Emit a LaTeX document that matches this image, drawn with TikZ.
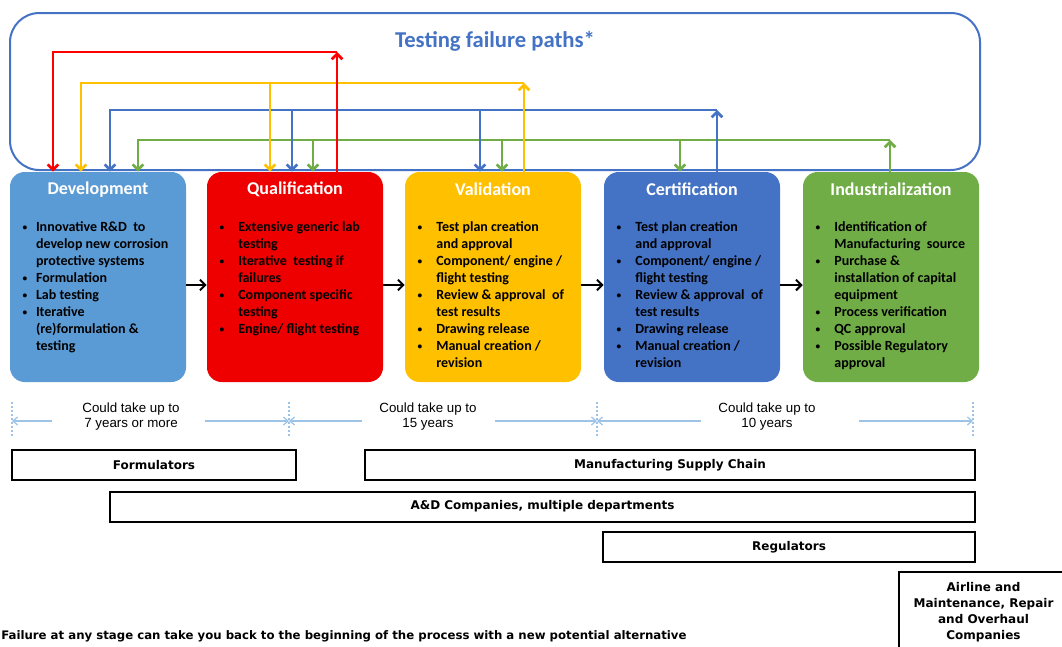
\documentclass[tikz,border=0pt]{standalone}
\usepackage{fontspec}
\setmainfont{Carlito}
\newfontfamily\barfont{DejaVu Sans}
\newfontfamily\spanfont{Liberation Sans}
\usetikzlibrary{arrows.meta,positioning,calc}
\definecolor{devblue}{HTML}{5B9BD5}
\definecolor{qualred}{HTML}{EE0000}
\definecolor{valgold}{HTML}{FFC000}
\definecolor{certblue}{HTML}{4472C4}
\definecolor{indgreen}{HTML}{70AD47}
\definecolor{spanblue}{HTML}{9DC3E6}
\newcommand{\bul}[1][14pt]{\makebox[#1][l]{\raisebox{0.8pt}{\fontsize{7}{7}\selectfont\textbullet}}}
\newcommand{\hang}[1][14pt]{\hspace*{#1}}
\tikzset{
 stagebox/.style={rounded corners=11pt,minimum width=132pt,minimum height=157.5pt,inner sep=0pt},
 stagetitle/.style={text=white,font=\bfseries\fontsize{13.5}{16}\selectfont},
 stagelist/.style={anchor=north west,align=left,inner sep=0pt,font=\bfseries\fontsize{10.5}{12.75}\selectfont},
 fail/.style={line width=2pt,-{Straight Barb[length=4pt,width=8pt]}},
 flow/.style={line width=1.5pt,-{Straight Barb[length=4pt,width=8pt]}},
 span/.style={spanblue,line width=0.9pt,-{Straight Barb[length=3.5pt,width=6pt]}},
 spantext/.style={align=center,inner sep=0pt,font=\spanfont\fontsize{10}{11.25}\selectfont},
 party/.style={draw,line width=1.5pt,minimum height=22.5pt,inner sep=0pt,font=\barfont\bfseries\fontsize{9}{12}\selectfont}
}
\begin{document}
\begin{tikzpicture}[x=0.75pt,y=-0.75pt]
\useasboundingbox (0,0) rectangle (1062,646);
\clip (0,0) rectangle (1062,646);
\node[draw=certblue,line width=1.5pt,rounded corners=22pt,minimum width=727.5pt,minimum height=117.75pt] (paths) at (495,91.5) {};
\node[text=certblue,font=\bfseries\fontsize{17}{20}\selectfont] (paths-title) at (495,41) {Testing failure paths*};
\foreach \x/\id/\col/\name in {98/dev/devblue/Development,295/qual/qualred/Qualification,493/val/valgold/Validation,692/cert/certblue/Certification,891/ind/indgreen/Industrialization}{
\node[stagebox,fill=\col] (\id) at (\x,277) {};
\node[stagetitle] (\id-title) at ([yshift=-13.5pt]\id.north) {\name};}
\node[stagelist] (dev-list) at ([xshift=9.5pt,yshift=-37.5pt]dev.north west) {\bul[10pt]Innovative R\&D\ \ to\\\hang[10pt]develop new corrosion\\\hang[10pt]protective systems\\\bul[10pt]Formulation\\\bul[10pt]Lab testing\\\bul[10pt]Iterative\\\hang[10pt](re)formulation \&\\\hang[10pt]testing};
\node[stagelist] (qual-list) at ([xshift=9.5pt,yshift=-37.5pt]qual.north west) {\bul Extensive generic lab\\\hang testing\\\bul Iterative\ \ testing if\\\hang failures\\\bul Component specific\\\hang testing\\\bul Engine/ flight testing};
\node[stagelist] (val-list) at ([xshift=9.5pt,yshift=-37.5pt]val.north west) {\bul Test plan creation\\\hang and approval\\\bul Component/ engine /\\\hang flight testing\\\bul Review \& approval\ \ of\\\hang test results\\\bul Drawing release\\\bul Manual creation /\\\hang revision};
\node[stagelist] (cert-list) at ([xshift=9.5pt,yshift=-37.5pt]cert.north west) {\bul Test plan creation\\\hang and approval\\\bul Component/ engine /\\\hang flight testing\\\bul Review \& approval\ \ of\\\hang test results\\\bul Drawing release\\\bul Manual creation /\\\hang revision};
\node[stagelist] (ind-list) at ([xshift=9.5pt,yshift=-37.5pt]ind.north west) {\bul Identification of\\\hang Manufacturing\ \ source\\\bul Purchase \&\\\hang installation of capital\\\hang equipment\\\bul Process verification\\\bul QC approval\\\bul Possible Regulatory\\\hang approval};
\draw[fail,indgreen] (ind.north -| 890,0) -- (890,140);
\draw[fail,indgreen] (890,140) -| (dev.north -| 138,0);
\draw[fail,indgreen] (313,140) -- (qual.north -| 313,0);
\draw[fail,indgreen] (502,140) -- (val.north -| 502,0);
\draw[fail,indgreen] (680,140) -- (cert.north -| 680,0);
\draw[fail,certblue] (cert.north -| 717,0) -- (717,110);
\draw[fail,certblue] (717,110) -| (dev.north -| 110,0);
\draw[fail,certblue] (292,110) -- (qual.north -| 292,0);
\draw[fail,certblue] (480,110) -- (val.north -| 480,0);
\draw[fail,valgold] (val.north -| 524,0) -- (524,83);
\draw[fail,valgold] (524,83) -| (dev.north -| 81,0);
\draw[fail,valgold] (270,83) -- (qual.north -| 270,0);
\draw[fail,red] (qual.north -| 337,0) -- (337,52);
\draw[fail,red] (337,52) -| (dev.north -| 53,0);
\foreach \a/\b in {dev/qual,qual/val,val/cert,cert/ind}
\draw[flow] ([yshift=-6pt]\a.east) -- ([yshift=-6pt]\b.west);
\foreach \n/\x in {0/12,1/289,2/597,3/973}{
\coordinate (t\n) at (\x,421);
\draw[spanblue,line width=0.9pt,dash pattern=on 1.5pt off 1.5pt] ([yshift=14pt]t\n) -- ([yshift=-13pt]t\n);}
\node[spantext] (span1) at (131,416.5) {Could take up to\\7 years or more};
\node[spantext] (span2) at (428,416.5) {Could take up to\\15 years};
\node[spantext] (span3) at (767,416.5) {Could take up to\\10 years};
\draw[span] ($(t0)+(40,0)$) -- (t0);
\draw[span] ($(t1)+(-84,0)$) -- (t1);
\draw[span] ($(t1)+(73,0)$) -- (t1);
\draw[span] ($(t2)+(-102,0)$) -- (t2);
\draw[span] ($(t2)+(104,0)$) -- (t2);
\draw[span] ($(t3)+(-114,0)$) -- (t3);
\node[party,minimum width=213pt] (formulators) at (154,465) {Formulators};
\node[party,minimum width=457.5pt] (supply) at (670,465) {Manufacturing Supply Chain};
\node[party,minimum width=648.75pt] (aerospace) at (542.5,506.5) {A\&D Companies, multiple departments};
\node[party,minimum width=279pt] (regulators) at (789,547) {Regulators};
\node[party,align=center,minimum width=126.75pt,minimum height=60pt] (airline) at (983.5,612) {Airline and\\Maintenance, Repair\\and Overhaul\\Companies};
\node[anchor=west,inner sep=0pt,font=\barfont\bfseries\fontsize{8.8}{10}\selectfont] (note) at (1,636) {Failure at any stage can take you back to the beginning of the process with a new potential alternative};
\end{tikzpicture}
\end{document}
